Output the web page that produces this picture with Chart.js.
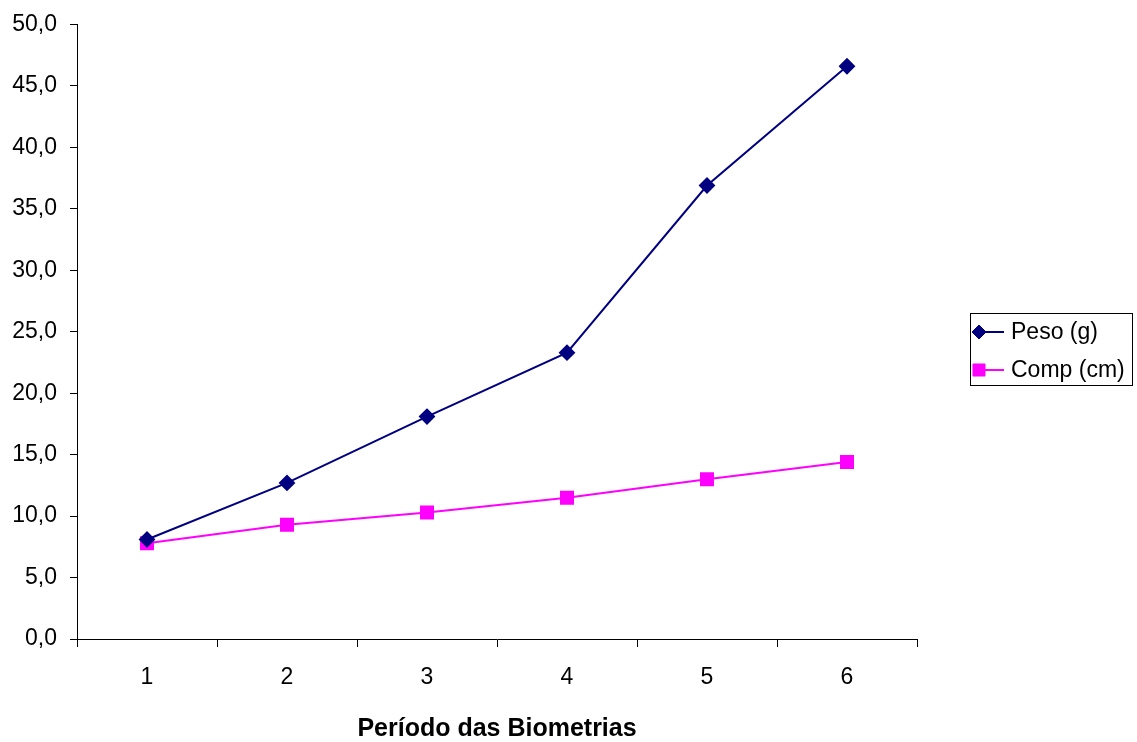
<!DOCTYPE html>
<html>
<head>
<meta charset="utf-8">
<script src="https://cdn.jsdelivr.net/npm/chart.js@4/dist/chart.umd.min.js"></script>
<style>
  html, body { margin: 0; padding: 0; background: #fff; }
  #wrap { width: 1137px; height: 742px; position: relative; }
</style>
</head>
<body>
<div id="wrap"><canvas id="c" width="1137" height="742"></canvas></div>
<script>
// data
const periodos = ['1', '2', '3', '4', '5', '6'];
const peso = [8.1, 12.7, 18.1, 23.3, 36.9, 46.6];
const comp = [7.8, 9.3, 10.3, 11.5, 13.0, 14.4];
const seriesNames = ['Peso (g)', 'Comp (cm)'];
const xTitle = 'Período das Biometrias';

const FONT = '"Liberation Sans", Arial, sans-serif';

// legend box drawn to the right of the plot, like the original
const boxLegend = {
  id: 'boxLegend',
  afterDraw(chart) {
    const ctx = chart.ctx;
    const x0 = 970.5, y0 = 313.5, w = 162, h = 72;
    ctx.save();
    ctx.strokeStyle = '#000';
    ctx.lineWidth = 1;
    ctx.strokeRect(x0, y0, w, h);
    const rows = [332, 370];
    chart.data.datasets.forEach((ds, i) => {
      const y = rows[i];
      ctx.strokeStyle = ds.borderColor;
      ctx.lineWidth = 2;
      ctx.beginPath();
      ctx.moveTo(976, y);
      ctx.lineTo(1004, y);
      ctx.stroke();
      ctx.fillStyle = ds.pointBackgroundColor;
      ctx.strokeStyle = ds.pointBorderColor;
      ctx.lineWidth = 1;
      Chart.helpers.drawPoint(ctx, {
        pointStyle: ds.pointStyle, radius: ds.pointRadius, borderWidth: 1
      }, 979, y);
      ctx.fillStyle = '#000';
      ctx.font = '23px ' + FONT;
      ctx.textBaseline = 'middle';
      ctx.textAlign = 'left';
      ctx.fillText(ds.label, 1011, y + 1);
    });
    ctx.restore();
  }
};

new Chart(document.getElementById('c'), {
  type: 'line',
  data: {
    labels: periodos,
    datasets: [
      {
        label: seriesNames[0], data: peso,
        borderColor: '#000080', backgroundColor: '#000080',
        pointBackgroundColor: '#000080', pointBorderColor: '#000080',
        pointStyle: 'rectRot', pointRadius: 7, borderWidth: 2, tension: 0
      },
      {
        label: seriesNames[1], data: comp,
        borderColor: '#ff00ff', backgroundColor: '#ff00ff',
        pointBackgroundColor: '#ff00ff', pointBorderColor: '#ff00ff',
        pointStyle: 'rect', pointRadius: 8.5, borderWidth: 2, tension: 0
      }
    ]
  },
  options: {
    responsive: false,
    animation: false,
    devicePixelRatio: 1,
    layout: { padding: { top: 24, right: 220, bottom: 0, left: 0 } },
    plugins: { legend: { display: false }, tooltip: { enabled: false } },
    scales: {
      x: {
        offset: true,
        grid: { offset: true, drawOnChartArea: false, drawTicks: true, tickLength: 8, color: '#000' },
        border: { display: true, color: '#000', width: 1 },
        ticks: { color: '#000', padding: 17, font: { family: FONT, size: 23 }, maxRotation: 0 },
        title: {
          display: true, text: xTitle, color: '#000',
          font: { family: FONT, size: 25, weight: 'bold', lineHeight: 1 },
          padding: { top: 0, bottom: 0 }
        },
        afterFit(s) { s.height = 103; }
      },
      y: {
        min: 0, max: 50,
        grid: { drawOnChartArea: false, drawTicks: true, tickLength: 7, color: '#000' },
        border: { display: true, color: '#000', width: 1 },
        ticks: {
          stepSize: 5, color: '#000', padding: 13,
          font: { family: FONT, size: 23, lineHeight: 1 },
          callback: v => v.toFixed(1).replace('.', ',')
        },
        afterFit(s) { s.width = 77; }
      }
    }
  },
  plugins: [boxLegend]
});
</script>
</body>
</html>
